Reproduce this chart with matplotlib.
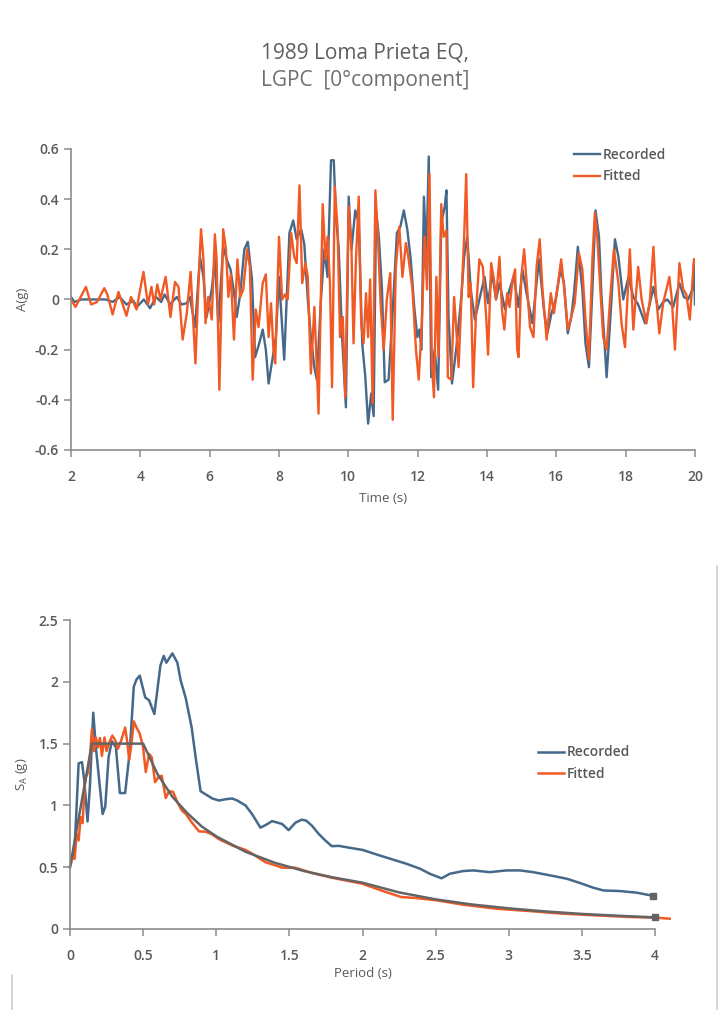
#!/usr/bin/env python3
"""Recorded vs fitted ground motion: acceleration history and response spectrum."""

import matplotlib.pyplot as plt

BLUE = "#44698a"
ORANGE = "#f15a24"
TARGET = "#646464"
TEXT = "#595959"
SPINE = "#8c8c8c"

# acceleration history, recorded (peaks and troughs)
time_rec = [
    2.0, 2.1, 2.3, 2.6, 3.0, 3.2, 3.4, 3.6, 3.8, 3.9, 4.1, 4.28, 4.45, 4.6, 4.7, 4.86,
    5.05, 5.19, 5.34, 5.43, 5.58, 5.72, 5.82, 5.91, 6.06, 6.15, 6.25, 6.39, 6.49, 6.6,
    6.7, 6.78, 6.88, 7.0, 7.1, 7.22, 7.31, 7.43, 7.53, 7.62, 7.7, 7.82, 7.91, 8.0,
    8.15, 8.3, 8.41, 8.51, 8.64, 8.73, 8.83, 8.92, 9.02, 9.09, 9.21, 9.31, 9.4, 9.5,
    9.58, 9.64, 9.72, 9.82, 9.93, 10.01, 10.09, 10.2, 10.3, 10.4, 10.49, 10.57, 10.66,
    10.73, 10.8, 10.88, 10.97, 11.05, 11.16, 11.26, 11.4, 11.5, 11.6, 11.7, 11.8, 11.9,
    11.99, 12.05, 12.11, 12.18, 12.25, 12.32, 12.39, 12.49, 12.59, 12.68, 12.78, 12.83,
    12.89, 12.99, 13.11, 13.26, 13.34, 13.43, 13.53, 13.65, 13.78, 13.93, 14.03, 14.15,
    14.26, 14.36, 14.52, 14.65, 14.77, 14.91, 15.02, 15.12, 15.31, 15.5, 15.64, 15.74,
    15.86, 15.98, 16.12, 16.22, 16.33, 16.43, 16.51, 16.62, 16.75, 16.84, 16.94, 17.04,
    17.13, 17.23, 17.3, 17.38, 17.45, 17.56, 17.69, 17.79, 17.93, 18.08, 18.22, 18.36,
    18.56, 18.7, 18.8, 18.94, 19.08, 19.2, 19.37, 19.55, 19.68, 19.8, 19.93, 19.97, 20.0,
]
acc_rec = [
    0.01, -0.01, 0.0, 0.0, 0.0, -0.01, 0.01, -0.02, -0.005, -0.03, 0.0, -0.035, 0.01,
    -0.01, 0.02, -0.02, 0.01, -0.02, -0.015, 0.01, -0.11, 0.17, 0.09, -0.07, 0.04, 0.16,
    -0.095, 0.21, 0.16, 0.12, 0.03, -0.07, 0.02, 0.2, 0.23, 0.08, -0.23, -0.175, -0.12,
    -0.2, -0.335, -0.23, -0.15, 0.09, -0.24, 0.265, 0.315, 0.24, 0.28, 0.22, 0.0, -0.15,
    -0.27, -0.32, 0.0, 0.2, 0.09, 0.555, 0.555, 0.33, 0.21, -0.15, -0.43, 0.41, 0.2,
    0.355, 0.305, -0.175, -0.31, -0.495, -0.375, -0.465, 0.355, 0.25, 0.04, -0.33, -0.32,
    -0.095, 0.265, 0.29, 0.355, 0.28, 0.16, -0.03, -0.15, -0.12, -0.2, 0.41, 0.17, 0.57,
    -0.31, -0.2, -0.36, 0.305, 0.37, 0.435, -0.07, -0.335, -0.2, 0.01, 0.17, 0.25, 0.04,
    -0.08, 0.0, 0.09, -0.015, 0.105, 0.0, 0.065, -0.04, 0.04, 0.09, -0.03, 0.12, 0.04,
    -0.095, 0.16, -0.04, -0.135, -0.055, 0.0, 0.12, 0.065, -0.135, -0.07, 0.025, 0.21,
    0.04, -0.175, -0.27, 0.04, 0.355, 0.25, 0.02, -0.15, -0.31, -0.07, 0.24, 0.17, 0.0,
    0.09, 0.01, -0.02, -0.095, -0.015, 0.05, -0.04, -0.01, 0.0, -0.03, 0.065, 0.01, 0.0,
    0.04, 0.145, -0.02,
]

# acceleration history, fitted
time_fit = [
    2.0, 2.13, 2.43, 2.58, 2.75, 2.96, 3.05, 3.2, 3.37, 3.6, 3.73, 3.89, 4.09, 4.22,
    4.32, 4.4, 4.49, 4.58, 4.73, 4.87, 5.0, 5.1, 5.22, 5.34, 5.45, 5.59, 5.67, 5.75,
    5.82, 5.88, 5.96, 6.06, 6.15, 6.2, 6.28, 6.35, 6.39, 6.47, 6.54, 6.61, 6.7, 6.8,
    6.88, 6.97, 7.08, 7.16, 7.24, 7.33, 7.41, 7.53, 7.62, 7.7, 7.77, 7.84, 7.89, 8.0,
    8.09, 8.17, 8.25, 8.35, 8.44, 8.51, 8.59, 8.67, 8.76, 8.83, 8.92, 9.02, 9.07, 9.14,
    9.26, 9.34, 9.4, 9.47, 9.53, 9.61, 9.69, 9.76, 9.84, 9.91, 10.01, 10.09, 10.15,
    10.22, 10.3, 10.37, 10.44, 10.51, 10.57, 10.63, 10.7, 10.78, 10.86, 10.93, 11.02,
    11.11, 11.21, 11.28, 11.37, 11.47, 11.56, 11.66, 11.73, 11.85, 11.95, 12.03, 12.12,
    12.2, 12.27, 12.34, 12.41, 12.47, 12.54, 12.6, 12.68, 12.75, 12.83, 12.87, 12.97,
    13.05, 13.11, 13.18, 13.26, 13.34, 13.4, 13.47, 13.53, 13.6, 13.69, 13.78, 13.88,
    13.98, 14.03, 14.12, 14.2, 14.26, 14.36, 14.43, 14.5, 14.58, 14.65, 14.74, 14.81,
    14.87, 14.91, 14.99, 15.07, 15.16, 15.24, 15.34, 15.43, 15.52, 15.6, 15.72, 15.84,
    15.93, 16.05, 16.14, 16.24, 16.33, 16.43, 16.53, 16.65, 16.75, 16.84, 16.94, 17.04,
    17.11, 17.18, 17.27, 17.35, 17.45, 17.55, 17.66, 17.79, 17.88, 17.98, 18.12, 18.22,
    18.36, 18.46, 18.6, 18.7, 18.8, 18.87, 18.97, 19.08, 19.26, 19.33, 19.42, 19.55,
    19.66, 19.75, 19.85, 19.97,
]
acc_fit = [
    0.0, -0.03, 0.05, -0.02, -0.01, 0.045, 0.02, -0.06, 0.03, -0.065, 0.01, -0.04, 0.11,
    -0.02, 0.05, -0.02, 0.06, 0.0, 0.09, -0.07, 0.07, 0.05, -0.16, -0.055, 0.11, -0.255,
    0.04, 0.28, 0.16, -0.095, 0.01, -0.08, 0.26, 0.16, -0.36, 0.04, 0.28, 0.2, 0.01,
    0.1, -0.16, 0.16, 0.01, 0.04, 0.2, 0.13, -0.32, -0.04, -0.11, 0.065, 0.1, -0.15,
    -0.015, -0.2, -0.255, 0.25, 0.0, 0.02, 0.0, 0.265, 0.17, 0.145, 0.455, 0.065, 0.145,
    0.09, -0.295, -0.03, -0.2, -0.455, 0.38, 0.16, 0.25, 0.065, -0.35, 0.45, 0.28,
    -0.15, -0.07, -0.39, 0.37, 0.2, -0.175, 0.16, 0.41, -0.095, -0.175, 0.025, -0.15,
    0.08, -0.415, 0.435, 0.225, -0.015, -0.2, 0.0, 0.105, -0.48, 0.13, 0.29, 0.09,
    0.225, 0.17, 0.04, -0.2, -0.32, -0.095, 0.25, 0.04, 0.5, -0.255, -0.39, 0.09, -0.23,
    0.38, 0.25, 0.275, -0.31, -0.32, 0.01, -0.11, -0.27, 0.0, 0.25, 0.5, 0.01, 0.065,
    -0.35, -0.03, 0.16, 0.13, -0.08, -0.22, 0.145, 0.08, 0.0, 0.17, -0.04, -0.12, 0.025,
    -0.03, 0.08, 0.12, -0.2, -0.23, 0.09, 0.2, 0.04, -0.11, -0.15, 0.13, 0.24, 0.04,
    -0.16, 0.025, -0.055, 0.065, 0.16, 0.025, -0.12, -0.07, -0.015, 0.185, 0.12, -0.08,
    -0.24, 0.16, 0.345, 0.25, 0.04, -0.15, -0.2, 0.0, 0.2, 0.065, -0.095, -0.19, 0.2,
    -0.12, 0.13, 0.0, -0.095, 0.0, 0.21, 0.025, -0.135, -0.015, 0.09, 0.0, -0.2, 0.145,
    0.04, 0.02, -0.08, 0.16,
]

# response spectrum, recorded
period_rec = [
    0.0, 0.03, 0.059, 0.082, 0.098, 0.12, 0.136, 0.159, 0.177, 0.2, 0.223, 0.241, 0.264,
    0.286, 0.314, 0.341, 0.377, 0.409, 0.436, 0.455, 0.477, 0.514, 0.541, 0.577, 0.618,
    0.641, 0.659, 0.7, 0.734, 0.757, 0.791, 0.832, 0.859, 0.893, 0.927, 0.973, 1.018,
    1.064, 1.109, 1.143, 1.2, 1.245, 1.302, 1.336, 1.382, 1.45, 1.495, 1.541, 1.582,
    1.614, 1.655, 1.7, 1.745, 1.79, 1.836, 1.913, 2.0, 2.117, 2.3, 2.393, 2.46, 2.54,
    2.597, 2.688, 2.757, 2.87, 2.985, 3.076, 3.167, 3.282, 3.396, 3.487, 3.578, 3.646,
    3.76, 3.875, 3.984,
]
sa_rec = [
    0.566, 0.61, 1.34, 1.35, 1.2, 0.87, 1.15, 1.75, 1.47, 1.2, 0.93, 0.99, 1.39, 1.52,
    1.47, 1.1, 1.1, 1.44, 1.96, 2.02, 2.05, 1.875, 1.85, 1.74, 2.13, 2.21, 2.155, 2.23,
    2.155, 2.01, 1.87, 1.63, 1.39, 1.115, 1.09, 1.056, 1.04, 1.05, 1.056, 1.04, 1.0,
    0.93, 0.82, 0.84, 0.873, 0.85, 0.8, 0.86, 0.884, 0.878, 0.835, 0.77, 0.717, 0.67,
    0.673, 0.657, 0.64, 0.595, 0.528, 0.488, 0.447, 0.41, 0.447, 0.469, 0.474, 0.46,
    0.474, 0.474, 0.46, 0.434, 0.407, 0.372, 0.334, 0.312, 0.307, 0.294, 0.269,
]

# response spectrum, fitted
period_fit = [
    0.0, 0.018, 0.032, 0.045, 0.059, 0.073, 0.086, 0.1, 0.109, 0.12, 0.136, 0.15, 0.164,
    0.177, 0.191, 0.205, 0.218, 0.236, 0.25, 0.268, 0.29, 0.31, 0.327, 0.35, 0.377,
    0.39, 0.405, 0.423, 0.436, 0.455, 0.477, 0.5, 0.518, 0.541, 0.559, 0.582, 0.605,
    0.627, 0.655, 0.677, 0.705, 0.734, 0.764, 0.791, 0.836, 0.882, 0.927, 0.973, 1.018,
    1.109, 1.2, 1.245, 1.336, 1.405, 1.45, 1.54, 1.655, 1.79, 1.905, 2.0, 2.14, 2.264,
    2.37, 2.505, 2.688, 2.916, 3.144, 3.37, 3.6, 3.83, 4.0, 4.1,
]
sa_fit = [
    0.5, 0.58, 0.568, 0.77, 0.717, 0.905, 0.857, 1.148, 1.23, 1.255, 1.39, 1.616, 1.44,
    1.55, 1.47, 1.546, 1.4, 1.55, 1.44, 1.51, 1.565, 1.525, 1.457, 1.525, 1.63, 1.525,
    1.37, 1.525, 1.68, 1.63, 1.58, 1.47, 1.27, 1.417, 1.39, 1.188, 1.23, 1.24, 1.06,
    1.115, 1.11, 1.026, 0.96, 0.932, 0.857, 0.79, 0.787, 0.765, 0.727, 0.676, 0.64,
    0.61, 0.54, 0.515, 0.496, 0.496, 0.453, 0.415, 0.388, 0.366, 0.307, 0.259, 0.25,
    0.232, 0.197, 0.164, 0.145, 0.124, 0.11, 0.097, 0.092, 0.0835,
]

# target design spectrum
period_tgt = [
    0.0, 0.15, 0.5, 0.6, 0.7, 0.8, 0.9, 1.0, 1.2, 1.4, 1.6, 1.8, 2.0, 2.25, 2.5, 2.75,
    3.0, 3.25, 3.5, 3.75, 4.0,
]
sa_tgt = [
    0.5, 1.5, 1.5, 1.25, 1.07, 0.94, 0.83, 0.75, 0.625, 0.536, 0.469, 0.417, 0.375,
    0.296, 0.24, 0.198, 0.167, 0.142, 0.122, 0.107, 0.094,
]


def style_axes(ax):
    for side in ("top", "right"):
        ax.spines[side].set_visible(False)
    for side in ("left", "bottom"):
        ax.spines[side].set_color(SPINE)
        ax.spines[side].set_linewidth(1.2)
    ax.tick_params(colors=SPINE, labelcolor=TEXT, labelsize=10, length=5, width=1.1)
    ax.tick_params(axis="x", pad=9.5)
    for label in ax.get_xticklabels() + ax.get_yticklabels():
        label.set_fontweight("semibold")


def add_legend(ax, loc):
    leg = ax.legend(loc=loc, frameon=False, fontsize=10, handlelength=1.9,
                    handletextpad=0.2, labelspacing=0.55, borderaxespad=0)
    for text in leg.get_texts():
        text.set_color(TEXT)
        text.set_fontweight("semibold")
    return leg


def main() -> int:
    plt.rcParams["font.family"] = ["Open Sans", "DejaVu Sans"]

    fig = plt.figure(figsize=(7.23, 10.10), dpi=100)
    fig.text(0.505, 0.948, "1989 Loma Prieta EQ,", ha="center", va="center",
             fontsize=15, color="#5f5f5f")
    fig.text(0.505, 0.920, "LGPC  [0\u00b0component]", ha="center", va="center",
             fontsize=15, color="#6f6f6f")

    # acceleration history
    ax1 = fig.add_axes([0.0982, 0.5545, 0.8631, 0.298])
    ax1.plot(time_rec, acc_rec, color=BLUE, lw=1.7, label="Recorded")
    ax1.plot(time_fit, acc_fit, color=ORANGE, lw=1.7, label="Fitted")
    ax1.set_xlim(2, 20)
    ax1.set_ylim(-0.6, 0.6)
    ax1.set_xticks(range(2, 21, 2))
    ax1.set_yticks([-0.6, -0.4, -0.2, 0, 0.2, 0.4, 0.6])
    ax1.set_yticklabels(["-0.6", "-0.4", "-0.2", "0", "0.2", "0.4", "0.6"])
    ax1.set_xlabel("Time (s)", color=TEXT, fontsize=9.5, labelpad=6)
    ax1.set_ylabel("A(g)", color=TEXT, fontsize=9.5, labelpad=4)
    style_axes(ax1)
    add_legend(ax1, (0.797, 0.867))

    # response spectrum
    ax2 = fig.add_axes([0.0968, 0.0802, 0.8092, 0.3059])
    ax2.plot(period_rec, sa_rec, color=BLUE, lw=1.8, label="Recorded")
    ax2.plot(period_fit, sa_fit, color=ORANGE, lw=1.8, label="Fitted", clip_on=False)
    ax2.plot(period_tgt, sa_tgt, color=TARGET, lw=1.8, clip_on=False)
    ax2.plot([period_rec[-1], period_tgt[-1]], [sa_rec[-1], sa_tgt[-1]], ls="none",
             marker="s", ms=4.5, color=TARGET, clip_on=False)
    ax2.set_xlim(0, 4)
    ax2.set_ylim(0, 2.5)
    ax2.set_xticks([0, 0.5, 1, 1.5, 2, 2.5, 3, 3.5, 4])
    ax2.set_xticklabels(["0", "0.5", "1", "1.5", "2", "2.5", "3", "3.5", "4"])
    ax2.set_yticks([0, 0.5, 1, 1.5, 2, 2.5])
    ax2.set_yticklabels(["0", "0.5", "1", "1.5", "2", "2.5"])
    ax2.set_xlabel("Period (s)", color=TEXT, fontsize=9.5, labelpad=2.5)
    ax2.set_ylabel(r"S$_\mathregular{A}$ (g)", color=TEXT, fontsize=9.5, labelpad=6)
    style_axes(ax2)
    add_legend(ax2, (0.79, 0.461))

    # page frame edges
    fig.add_artist(plt.Line2D([0.992, 0.992], [0.0, 0.44], color="#d0d0d0", lw=1.2))
    fig.add_artist(plt.Line2D([0.017, 0.017], [0.0, 0.035], color="#d0d0d0", lw=1.2))

    fig.savefig("out.png", dpi=100)
    plt.close(fig)
    return 0


if __name__ == "__main__":
    raise SystemExit(main())
